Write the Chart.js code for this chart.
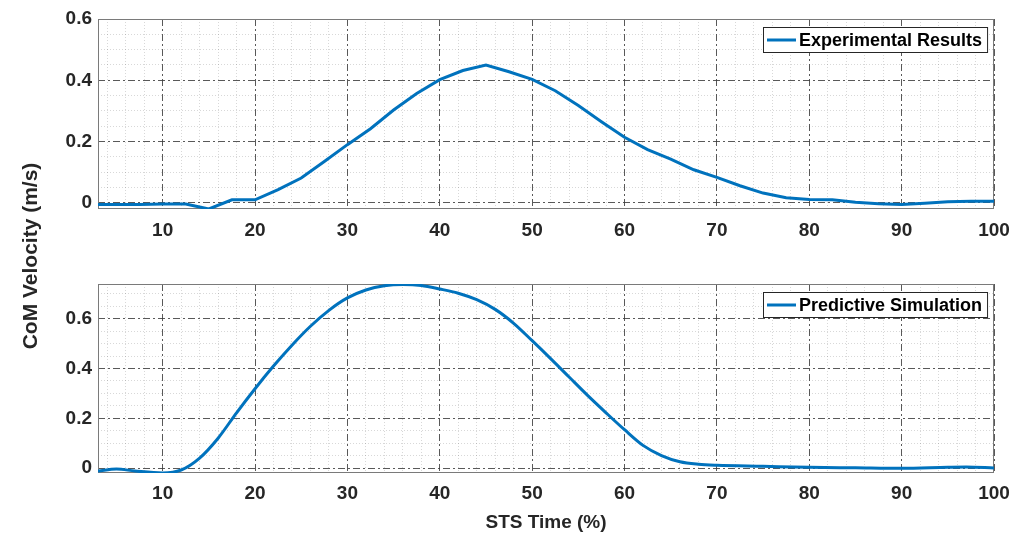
<!DOCTYPE html>
<html>
<head>
<meta charset="utf-8">
<script src="https://cdn.jsdelivr.net/npm/chart.js@4.4.0/dist/chart.umd.min.js"></script>
<style>
  body { margin: 0; background: #fff; }
  #wrap { position: relative; width: 1024px; height: 534px; overflow: hidden; }
  canvas { position: absolute; left: 0; }
  #ylabel {
    position: absolute; left: -170px; top: 244px; width: 400px; line-height: 24px;
    text-align: center; color: #262626; transform: rotate(-90deg);
    font: bold 21px "Liberation Sans", Arial, sans-serif;
  }
</style>
</head>
<body>
<div id="wrap">
  <canvas id="chart-exp" width="1024" height="250" style="top:0"></canvas>
  <canvas id="chart-sim" width="1024" height="270" style="top:264px"></canvas>
  <div id="ylabel">CoM Velocity (m/s)</div>
</div>
<script>
// dados
const expTime = [3, 5, 7.5, 10, 12.5, 15, 17.5, 20, 22.5, 25, 27.5, 30, 32.5, 35, 37.5, 40, 42.5, 45, 47.5, 50,
                 52.5, 55, 57.5, 60, 62.5, 65, 67.5, 70, 72.5, 75, 77.5, 80, 82.5, 85, 87.5, 90, 92.5, 95, 97.5, 100];
const expVelocity = [-0.005, -0.005, -0.005, -0.004, -0.004, -0.02, 0.01, 0.01, 0.043, 0.081, 0.135, 0.19, 0.242, 0.303, 0.357, 0.402, 0.432, 0.45, 0.428, 0.403,
                     0.366, 0.318, 0.265, 0.214, 0.174, 0.143, 0.108, 0.083, 0.056, 0.032, 0.017, 0.011, 0.01, 0.002, -0.003, -0.005, -0.001, 0.004, 0.005, 0.005];

const simTime = [3, 5, 7, 10, 12, 14, 16, 18, 20, 22, 24, 26, 28, 30, 32, 34, 36, 38, 40, 42, 44, 46, 48, 50,
                 52, 54, 56, 58, 60, 62, 64, 66, 68, 70, 75, 80, 85, 90, 95, 97, 100];
const simVelocity = [-0.012, -0.004, -0.012, -0.02, -0.008, 0.04, 0.12, 0.222, 0.319, 0.41, 0.494, 0.57, 0.634, 0.684, 0.716, 0.733, 0.738, 0.734, 0.72, 0.703, 0.677, 0.638, 0.582, 0.512,
                     0.44, 0.366, 0.292, 0.222, 0.154, 0.091, 0.05, 0.025, 0.015, 0.011, 0.007, 0.003, 0.001, -0.001, 0.003, 0.004, 0.0];

const xTickLabels = [10, 20, 30, 40, 50, 60, 70, 80, 90, 100];
const yTickLabels = [0, 0.2, 0.4, 0.6];

const FONT = '"Liberation Sans", Arial, sans-serif';
const LINE_COLOR = '#0072BD';

const isMajorX = v => xTickLabels.some(t => Math.abs(t - v) < 1e-6);
const isMajorY = v => yTickLabels.some(t => Math.abs(t - v) < 1e-6);

// moldura do eixo (box on)
const boxPlugin = {
    id: 'box',
    beforeDatasetsDraw(chart) {
        const { ctx, chartArea: a } = chart;
        ctx.save();
        ctx.strokeStyle = '#7a7a7a';
        ctx.lineWidth = 1;
        ctx.strokeRect(Math.round(a.left) + 0.5, Math.round(a.top) + 0.5,
                       Math.round(a.right - a.left) - 1, Math.round(a.bottom - a.top) - 1);
        ctx.restore();
    }
};

// legenda dentro do gráfico, canto superior direito
const legendPlugin = {
    id: 'boxLegend',
    afterDraw(chart) {
        const { ctx, chartArea: a } = chart;
        const ds = chart.data.datasets[0];
        ctx.save();
        ctx.font = 'bold 18px ' + FONT;
        const tw = ctx.measureText(ds.label).width;
        const w = 36 + tw + 5, h = 25;
        const x0 = Math.round(a.right - 7 - w), y0 = Math.round(a.top + 8);
        ctx.fillStyle = '#fff';
        ctx.fillRect(x0, y0, w, h);
        ctx.strokeStyle = '#262626';
        ctx.lineWidth = 1;
        ctx.strokeRect(x0 + 0.5, y0 + 0.5, w, h);
        ctx.strokeStyle = ds.borderColor;
        ctx.lineWidth = 3;
        ctx.beginPath();
        ctx.moveTo(x0 + 4, y0 + h / 2 + 0.5);
        ctx.lineTo(x0 + 33, y0 + h / 2 + 0.5);
        ctx.stroke();
        ctx.fillStyle = '#000';
        ctx.textBaseline = 'middle';
        ctx.fillText(ds.label, x0 + 36, y0 + h / 2 + 1.5);
        ctx.restore();
    }
};

function makeOptions(yMin, yMax, xTitle, xHeight, topPad, tickPad) {
    return {
        responsive: false,
        animation: false,
        layout: { padding: { left: 0, right: 30, top: topPad, bottom: 0 } },
        plugins: { legend: { display: false }, tooltip: { enabled: false } },
        scales: {
            x: {
                type: 'linear', min: 3, max: 100,
                afterFit: s => { s.height = xHeight; },
                ticks: {
                    stepSize: 2, includeBounds: false, autoSkip: false, maxRotation: 0, padding: tickPad,
                    color: '#262626', font: { family: FONT, size: 19, weight: 'bold' },
                    callback: v => isMajorX(v) ? String(v) : ''
                },
                grid: {
                    drawTicks: false, lineWidth: 1,
                    color: c => (c.tick && isMajorX(c.tick.value)) ? 'rgba(60,60,60,0.85)' : 'rgba(60,60,60,0.2)'
                },
                border: {
                    display: false,
                    dash: c => c.tick ? (isMajorX(c.tick.value) ? [7, 3, 2, 3] : [1, 2]) : []
                },
                title: {
                    display: !!xTitle, text: xTitle || '', color: '#262626',
                    font: { family: FONT, size: 19, weight: 'bold' }, padding: { top: 0, bottom: 0 }
                }
            },
            y: {
                min: yMin, max: yMax,
                afterFit: s => { s.width = 98; },
                ticks: {
                    stepSize: 0.05, includeBounds: false, autoSkip: false, padding: 6,
                    color: '#262626', font: { family: FONT, size: 19, weight: 'bold' },
                    callback: v => isMajorY(v) ? String(Number(v.toFixed(1))) : ''
                },
                grid: {
                    drawTicks: false, lineWidth: 1,
                    color: c => (c.tick && isMajorY(c.tick.value)) ? 'rgba(60,60,60,0.85)' : 'rgba(60,60,60,0.2)'
                },
                border: {
                    display: false,
                    dash: c => c.tick ? (isMajorY(c.tick.value) ? [7, 3, 2, 3] : [1, 2]) : []
                }
            }
        }
    };
}

const chartExp = new Chart(document.getElementById('chart-exp').getContext('2d'), {
    type: 'line',
    data: {
        datasets: [{
            label: 'Experimental Results',
            data: expTime.map((t, i) => ({ x: t, y: expVelocity[i] })),
            borderColor: LINE_COLOR, borderWidth: 3, pointRadius: 0, tension: 0, fill: false
        }]
    },
    options: makeOptions(-0.02, 0.6, null, 41, 19, 10),
    plugins: [boxPlugin, legendPlugin]
});

const chartSim = new Chart(document.getElementById('chart-sim').getContext('2d'), {
    type: 'line',
    data: {
        datasets: [{
            label: 'Predictive Simulation',
            data: simTime.map((t, i) => ({ x: t, y: simVelocity[i] })),
            borderColor: LINE_COLOR, borderWidth: 3, pointRadius: 0,
            cubicInterpolationMode: 'monotone', fill: false
        }]
    },
    options: makeOptions(-0.02, 0.74, 'STS Time (%)', 61, 20, 9),
    plugins: [boxPlugin, legendPlugin]
});
</script>
</body>
</html>
